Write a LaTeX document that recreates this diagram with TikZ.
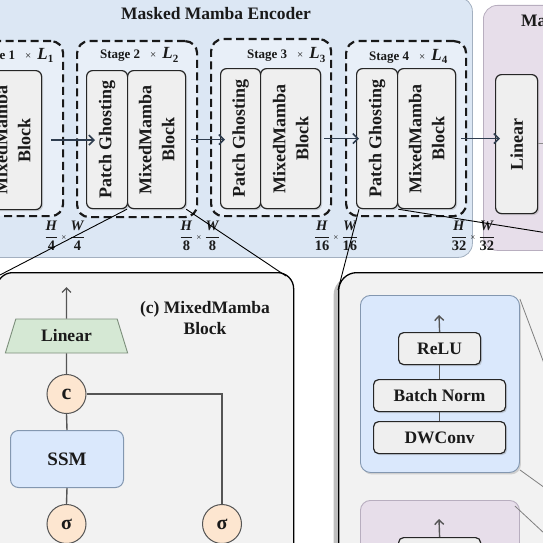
\documentclass[tikz,border=0pt]{standalone}
\usepackage{fontspec}
\setmainfont{Liberation Serif}
\usetikzlibrary{arrows.meta,shapes.geometric,shadows}
\definecolor{encbg}{HTML}{DCE7F4}
\definecolor{encdraw}{HTML}{A3B0C0}
\definecolor{stagebg}{HTML}{E8EFF8}
\definecolor{blockfill}{HTML}{EFEFEF}
\definecolor{purp}{HTML}{E7DEEA}
\definecolor{purpdraw}{HTML}{B8AEBF}
\definecolor{panelc}{HTML}{F2F2F2}
\definecolor{greenf}{HTML}{D5E8D4}
\definecolor{greend}{HTML}{7D8F7C}
\definecolor{peach}{HTML}{FDE6D0}
\definecolor{ssmf}{HTML}{DAE8FC}
\definecolor{ssmd}{HTML}{8397B0}
\definecolor{arrc}{HTML}{2F3D4F}
\definecolor{conc}{HTML}{555555}
\definecolor{txt}{HTML}{1A1A1A}
\newcommand\mybox[7]{\node[#2,anchor=north west,inner sep=0pt,minimum width={(#5)-(#3)},minimum height={(#6)-(#4)}] (#1) at (#3,#4) {#7};}
\newcommand\myfr[2]{$\displaystyle\frac{\textbf{\textit{#1}}}{\textbf{#2}}$}
\newcommand\dimlab[1]{\myfr{H}{#1}\hspace{3pt}{\fontsize{9}{9}\selectfont ×}\hspace{3pt}\myfr{W}{#1}}
\newcommand\stlab[1]{Stage #1\hspace{10pt}{\mdseries\fontsize{11}{11}\selectfont ×}\hspace{6pt}{\fontsize{17}{17}\selectfont\textit{L}}\textsubscript{\fontsize{11}{11}\selectfont #1}}
\begin{document}
\begin{tikzpicture}[x=1pt,y=-1pt,
  blk/.style={draw=black!85,fill=blockfill,line width=1.2pt,rounded corners=6pt,drop shadow={shadow xshift=1.5pt,shadow yshift=-1.5pt,opacity=0.3}},
  stagebox/.style={draw=black!90,fill=stagebg,line width=2.2pt,dash pattern=on 8pt off 4.5pt,rounded corners=12pt},
  btxt/.style={font=\fontsize{18}{23}\selectfont\bfseries,text=txt,align=center,inner sep=0pt},
  stxt/.style={font=\fontsize{13}{15}\selectfont\bfseries,text=txt,anchor=east,inner sep=0pt},
  dtxt/.style={font=\fontsize{14.5}{16}\selectfont,text=txt,inner sep=0pt},
  arr/.style={draw=arrc,line width=1.6pt,-{Straight Barb[length=5pt,width=10pt,line width=1.6pt]}},
  garr/.style={draw=conc,line width=1.4pt,-{Straight Barb[length=4.5pt,width=9pt,line width=1.4pt]}},
  con/.style={draw=conc,line width=1.4pt},
  zoomln/.style={draw=black,line width=0.9pt},
  zoomg/.style={draw=black!50,line width=0.8pt},
  circ/.style={circle,draw=conc,fill=peach,line width=1pt,minimum size=39pt,inner sep=0pt,text=txt},
  ptxt/.style={font=\fontsize{17.5}{21}\selectfont\bfseries,text=txt}
]
\useasboundingbox (0,0) rectangle (543,543);
\clip (0,0) rectangle (543,543);

% ---------- encoder panel ----------
\mybox{enc}{fill=encbg,draw=encdraw,line width=0.8pt,rounded corners=14pt}{-20}{-3}{472}{257}{}
\node[font=\fontsize{17.5}{20}\selectfont\bfseries,text=txt] (enctitle) at (216,14) {Masked Mamba Encoder};
\mybox{dec}{fill=purp,draw=purpdraw,line width=0.8pt,rounded corners=14pt}{483}{5}{590}{250}{}
\node[font=\fontsize{17.5}{20}\selectfont\bfseries,text=txt,anchor=west,inner sep=0pt] (dectitle) at (521,21) {Ma};

% stages
\mybox{st1}{stagebox}{-60}{40}{62}{215}{}
\mybox{st2}{stagebox}{76}{40}{196}{216}{}
\mybox{st3}{stagebox}{210}{38}{330}{215}{}
\mybox{st4}{stagebox}{345}{40}{465}{215}{}
\node[stxt] (st1l) at (54,55) {\stlab{1}};
\node[stxt] (st2l) at (179,55) {\stlab{2}};
\node[stxt] (st3l) at (326,55) {\stlab{3}};
\node[stxt] (st4l) at (448,56) {\stlab{4}};

% blocks
\mybox{s1mm}{blk}{-17}{70}{41}{209}{}
\mybox{s2pg}{blk}{86}{70}{127}{208}{}
\mybox{s2mm}{blk}{127}{70}{185}{208}{}
\mybox{s3pg}{blk}{220}{68}{260}{208}{}
\mybox{s3mm}{blk}{260}{68}{320}{208}{}
\mybox{s4pg}{blk}{356}{68}{397}{208}{}
\mybox{s4mm}{blk}{397}{68}{455}{208}{}
\mybox{lin}{blk}{495}{74}{537}{213}{}
\node[btxt,rotate=90] (s1mmt) at (s1mm.center) {MixedMamba\\Block};
\node[btxt,rotate=90] (s2pgt) at (s2pg.center) {Patch Ghosting};
\node[btxt,rotate=90] (s2mmt) at (s2mm.center) {MixedMamba\\Block};
\node[btxt,rotate=90] (s3pgt) at (s3pg.center) {Patch Ghosting};
\node[btxt,rotate=90] (s3mmt) at (s3mm.center) {MixedMamba\\Block};
\node[btxt,rotate=90] (s4pgt) at (s4pg.center) {Patch Ghosting};
\node[btxt,rotate=90] (s4mmt) at (s4mm.center) {MixedMamba\\Block};
\node[btxt,rotate=90] (lint) at (lin.center) {Linear};

% arrows
\draw[arr] ([xshift=9pt]s1mm.east) -- ([xshift=9pt]s1mm.east -| s2pg.west);
\draw[arr] ([xshift=5pt]s2mm.east) -- ([xshift=5pt]s2mm.east -| s3pg.west);
\draw[arr] ([xshift=3pt]s3mm.east) -- ([xshift=3pt]s3mm.east -| s4pg.west);
\draw[arr] ([xshift=5pt]s4mm.east) -- ([xshift=5pt]s4mm.east -| lin.west);
\coordinate (linout) at (560,143);
\draw[con,draw=black!45,line width=0.9pt] (lin.east |- linout) -- (linout);

% dimension labels
\node[dtxt] (d1) at (65,236) {\dimlab{4}};
\node[dtxt] (d2) at (200,236) {\dimlab{8}};
\node[dtxt] (d3) at (336,236) {\dimlab{16}};
\node[dtxt] (d4) at (473,236) {\dimlab{32}};

% ---------- panel (c) ----------
\mybox{pc}{fill=panelc,draw=black,line width=1.3pt,rounded corners=16pt}{-4}{272}{293}{580}{}
\node[ptxt,align=center] (pct) at (205,318) {(c) MixedMamba\\Block};
\node[trapezium,trapezium left angle=67,trapezium right angle=67,trapezium stretches=true,minimum width=123pt,minimum height=34pt,inner sep=0pt,fill=greenf,draw=greend,line width=0.9pt,ptxt] (clin) at (66.5,336) {Linear};
\coordinate (ctop) at (66.5,287);
\node[circ,font=\fontsize{22}{22}\selectfont\bfseries] (cc) at (66.5,394) {c};
\mybox{ssm}{fill=ssmf,draw=ssmd,line width=1pt,rounded corners=8pt,font=\fontsize{19}{22}\selectfont\bfseries,text=txt}{10}{430}{123}{487}{SSM}
\node[circ,font=\fontsize{20}{20}\selectfont\bfseries] (sg1) at (66.5,524) {σ};
\node[circ,font=\fontsize{20}{20}\selectfont\bfseries] (sg2) at (222,524) {σ};
\draw[garr] (clin.north) -- (ctop);
\draw[con] (clin.south) -- (cc.north);
\draw[con] (cc.south) -- (ssm.north);
\draw[con] (ssm.south) -- (sg1.north);
\draw[con] (cc.east) -| (sg2.north);

% ---------- panel (d) ----------
\mybox{pd}{fill=panelc,draw=black,line width=1.3pt,rounded corners=18pt,drop shadow={shadow xshift=-5pt,shadow yshift=-4pt,opacity=0.5}}{338}{272}{600}{600}{}
\mybox{bb}{fill=ssmf,draw=ssmd,line width=0.9pt,rounded corners=10pt,drop shadow={shadow xshift=1.5pt,shadow yshift=-2pt,opacity=0.3}}{360}{295}{519}{472}{}
\mybox{relu}{blk,rounded corners=5pt,ptxt}{398}{332}{480}{364}{ReLU}
\mybox{bn}{blk,rounded corners=5pt,ptxt}{373}{379}{505}{411}{Batch Norm}
\mybox{dw}{blk,rounded corners=5pt,ptxt}{373}{421}{505}{453}{DWConv}
\coordinate (rtop) at (439,315);
\draw[garr] (relu.north) -- (rtop);
\draw[con] (relu.south) -- (bn.north);
\draw[con] (bn.south) -- (dw.north);
\mybox{pb}{fill=purp,draw=purpdraw,line width=0.9pt,rounded corners=10pt}{360}{500}{519}{620}{}
\mybox{pbin}{blk,rounded corners=5pt}{398}{537}{480}{580}{}
\coordinate (ptop) at (439,519);
\draw[garr] (pbin.north) -- (ptop);

% ---------- zoom lines ----------
\coordinate (zc1) at (-2,276);
\coordinate (zc2) at (286,276);
\coordinate (zd1) at (338,290);
\coordinate (zd2) at (560,235);
\draw[zoomln] (s2mm.south west) -- (zc1);
\draw[zoomln] (s2mm.south east) -- (zc2);
\draw[zoomln] ([xshift=3pt]s4pg.south west) -- (zd1);
\draw[zoomln] (s4pg.south east) -- (zd2);
\coordinate (zg1) at (545,366);
\coordinate (zg2) at (545,488);
\coordinate (zg3) at (545,534);
\draw[zoomg] ([yshift=-4pt]bb.north east) -- (zg1);
\draw[zoomg] ([yshift=3pt]bb.south east) -- (zg2);
\draw[zoomg] ([xshift=-5pt,yshift=-6pt]pb.north east) -- (zg3);
\end{tikzpicture}
\end{document}
